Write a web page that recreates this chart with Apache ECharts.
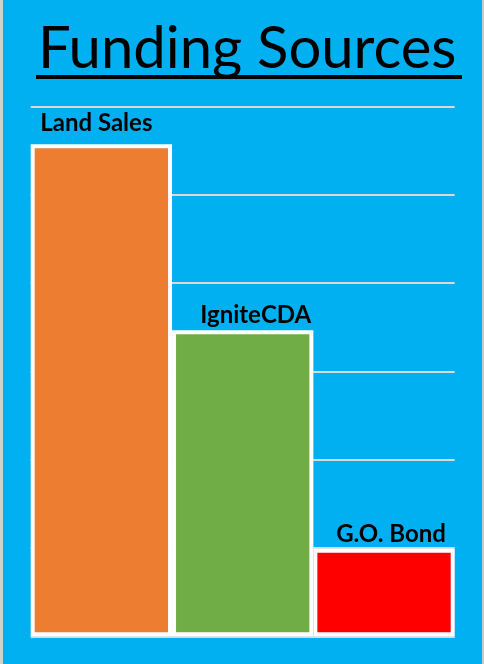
<!DOCTYPE html>
<html>
<head>
<meta charset="utf-8">
<script src="https://cdn.jsdelivr.net/npm/echarts@6/dist/echarts.min.js"></script>
<style>
  html, body { margin: 0; padding: 0; background: #00b0f0; }
  #main { width: 484px; height: 664px; }
</style>
</head>
<body>
<div id="main"></div>
<script>
var myChart = echarts.init(document.getElementById('main'));

// data
var categories = ['Land Sales', 'IgniteCDA', 'G.O. Bond'];
var values = [5.575, 3.468, 0.992];

// styling
var barColors = ['#ed7d31', '#70ad47', '#ff0000'];
var labelOffsets = [[-5, -5], [13, 1], [7, 2]];

var option = {
    backgroundColor: '#00b0f0',
    animation: false,
    title: {
        text: 'Funding Sources',
        left: 38,
        top: 20,
        padding: 0,
        textStyle: {
            color: '#000',
            fontFamily: 'Lato',
            fontWeight: 'normal',
            fontSize: 58
        }
    },
    graphic: [
        // underline of the title
        { type: 'line', shape: { x1: 36, y1: 77, x2: 462, y2: 77 }, style: { stroke: '#000', lineWidth: 4 } },
        // slide edges
        { type: 'rect', shape: { x: 0, y: 0, width: 3, height: 664 }, style: { fill: '#d0d0d0' } },
        { type: 'rect', shape: { x: 482, y: 0, width: 2, height: 664 }, style: { fill: '#c8c8c8' } }
    ],
    grid: {
        left: 30.7,
        right: 29.3,
        top: 106.7,
        bottom: 27.7
    },
    xAxis: {
        type: 'category',
        data: categories,
        axisLine: { show: false },
        axisTick: { show: false },
        axisLabel: { show: false }
    },
    yAxis: {
        type: 'value',
        min: 0,
        max: 6,
        interval: 1,
        axisLine: { show: false },
        axisTick: { show: false },
        axisLabel: { show: false },
        splitLine: {
            lineStyle: { color: '#d9d9d9', width: 2 }
        }
    },
    series: [{
        type: 'bar',
        barCategoryGap: 0,
        data: values.map(function (v, i) {
            return {
                value: v,
                itemStyle: { color: barColors[i] },
                label: { offset: labelOffsets[i] }
            };
        }),
        itemStyle: {
            borderColor: '#fff',
            borderWidth: 4
        },
        label: {
            show: true,
            position: 'top',
            distance: 4,
            formatter: '{b}',
            color: '#000',
            fontFamily: 'Lato',
            fontWeight: 'bold',
            fontSize: 24
        }
    }]
};

myChart.setOption(option);
</script>
</body>
</html>
